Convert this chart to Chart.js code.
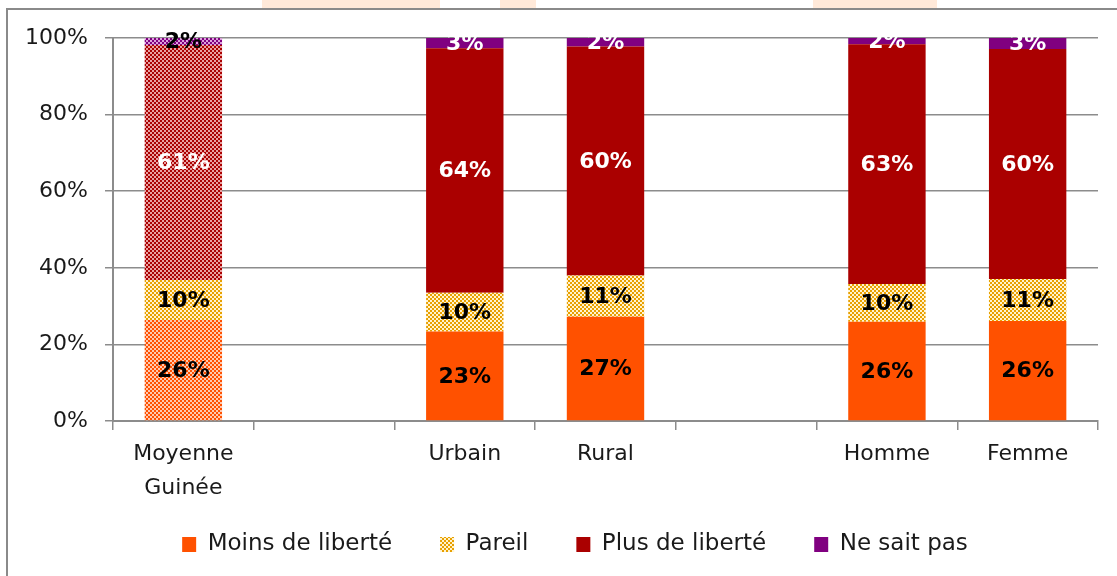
<!DOCTYPE html>
<html>
<head>
<meta charset="utf-8">
<script src="https://cdn.jsdelivr.net/npm/chart.js@4.4.1/dist/chart.umd.min.js"></script>
<style>
  html, body { margin: 0; padding: 0; background: #fff; }
  #wrap { position: absolute; left: 0; top: 0; width: 1117px; height: 576px; }
  #frame { position: absolute; left: 6px; top: 8px; width: 1111px; height: 568px;
           border-left: 2px solid #8a8a8a; border-top: 2px solid #8a8a8a; box-sizing: border-box; }
  .wm { position: absolute; top: 0; height: 8px; background: #ffe9d9; }
</style>
</head>
<body>
<div class="wm" style="left:262px;width:178px;"></div>
<div class="wm" style="left:500px;width:36px;"></div>
<div class="wm" style="left:813px;width:124px;"></div>
<div id="frame"></div>
<div id="wrap"><canvas id="chart"></canvas></div>
<script>
// categories (empty slots are gaps between groups)
const categories = [['Moyenne', 'Guinée'], '', 'Urbain', 'Rural', '', 'Homme', 'Femme'];
const seriesNames = ['Moins de liberté', 'Pareil', 'Plus de liberté', 'Ne sait pas'];

// values in percent
const moinsValues  = [26.4, null, 23.4, 27.2, null, 25.9, 26.1];
const pareilValues = [10.4, null, 10.1, 10.8, null, 9.9, 11.0];
const plusValues   = [61.4, null, 63.8, 59.8, null, 62.6, 60.0];
const nspValues    = [1.8, null, 2.7, 2.2, null, 1.6, 2.9];

const yTicks = [0, 20, 40, 60, 80, 100];

// colours
const cMoins = '#ff5100';
const cPareil = '#e8a000';
const cPlus = '#aa0000';
const cNsp = '#800080';

// small checker pattern like the office fill patterns
function makePattern(fg, bg) {
  const c = document.createElement('canvas');
  c.width = 4; c.height = 4;
  const g = c.getContext('2d');
  g.fillStyle = bg;
  g.fillRect(0, 0, 4, 4);
  g.fillStyle = fg;
  g.fillRect(0, 0, 2, 2);
  g.fillRect(2, 2, 2, 2);
  return g.createPattern(c, 'repeat');
}

const pareilPattern = makePattern(cPareil, '#fff3cf');
const moinsPattern = makePattern(cMoins, '#ffc9b0');
const plusPattern = makePattern(cPlus, '#e9a0a0');
const nspPattern = makePattern(cNsp, '#dca0dc');

// first category (Moyenne Guinée) is drawn patterned
function colorsFor(solid, pattern) {
  return categories.map((c, i) => i === 0 ? pattern : solid);
}

const labelColors = [
  categories.map(() => '#000'),
  categories.map(() => '#000'),
  categories.map(() => '#fff'),
  categories.map((c, i) => i === 0 ? '#000' : '#fff')
];

const legendFills = [cMoins, pareilPattern, cPlus, cNsp];

// draws the rounded percentage in the middle of each segment
const segmentLabels = {
  id: 'segmentLabels',
  afterDatasetsDraw(chart) {
    const ctx = chart.ctx;
    ctx.save();
    ctx.font = 'bold 22px "DejaVu Sans"';
    ctx.textAlign = 'center';
    ctx.textBaseline = 'middle';
    chart.data.datasets.forEach((ds, di) => {
      const meta = chart.getDatasetMeta(di);
      meta.data.forEach((bar, i) => {
        const v = ds.data[i];
        if (v === null || v === undefined) return;
        const props = bar.getProps(['x', 'y', 'base'], true);
        ctx.fillStyle = labelColors[di][i];
        ctx.fillText(Math.round(v) + '%', props.x, (props.y + props.base) / 2 + 1);
      });
    });
    ctx.restore();
  }
};

// legend padding is wide for the item gaps, so move the box up and right a bit
const legendShift = {
  id: 'legendShift',
  afterLayout(chart) {
    const lg = chart.legend;
    if (!lg) return;
    const dy = 485 - lg.top;
    lg.top += dy; lg.bottom += dy;
    lg.left += 26; lg.right += 26;
  }
};

const gridColor = '#8c8c8c';

new Chart(document.getElementById('chart'), {
  type: 'bar',
  data: {
    labels: categories,
    datasets: [
      { label: seriesNames[0], data: moinsValues, backgroundColor: colorsFor(cMoins, moinsPattern) },
      { label: seriesNames[1], data: pareilValues, backgroundColor: colorsFor(pareilPattern, pareilPattern) },
      { label: seriesNames[2], data: plusValues, backgroundColor: colorsFor(cPlus, plusPattern) },
      { label: seriesNames[3], data: nspValues, backgroundColor: colorsFor(cNsp, nspPattern) }
    ]
  },
  options: {
    responsive: true,
    maintainAspectRatio: false,
    animation: false,
    events: [],
    categoryPercentage: 1,
    barPercentage: 0.55,
    layout: { padding: { top: 38, right: 19, bottom: 0, left: 0 } },
    scales: {
      x: {
        stacked: true,
        grid: { offset: true, drawOnChartArea: false, drawTicks: true, tickLength: 9, color: gridColor, lineWidth: 1.5 },
        border: { color: gridColor, width: 2 },
        ticks: { color: '#1a1a1a', font: { family: 'DejaVu Sans', size: 22, lineHeight: 1.55 }, padding: 7, maxRotation: 0, autoSkip: false },
        afterFit(scale) { scale.height = 84; }
      },
      y: {
        stacked: true,
        min: 0,
        max: 100,
        afterBuildTicks(scale) { scale.ticks = yTicks.map(v => ({ value: v })); },
        grid: { color: gridColor, lineWidth: 1.5, tickLength: 8 },
        border: { color: gridColor, width: 2 },
        ticks: { color: '#1a1a1a', font: { family: 'DejaVu Sans', size: 22 }, padding: 17, callback: v => v + '%' },
        afterFit(scale) { scale.width = 113; }
      }
    },
    plugins: {
      tooltip: { enabled: false },
      legend: {
        position: 'bottom',
        maxHeight: 71,
        labels: {
          color: '#1a1a1a',
          font: { family: 'DejaVu Sans', size: 23 },
          boxWidth: 14,
          boxHeight: 15,
          padding: 48,
          generateLabels(chart) {
            const items = Chart.defaults.plugins.legend.labels.generateLabels(chart);
            items.forEach((it, i) => { it.fillStyle = legendFills[i]; it.strokeStyle = 'transparent'; it.lineWidth = 0; });
            return items;
          }
        }
      }
    }
  },
  plugins: [segmentLabels, legendShift]
});
</script>
</body>
</html>
